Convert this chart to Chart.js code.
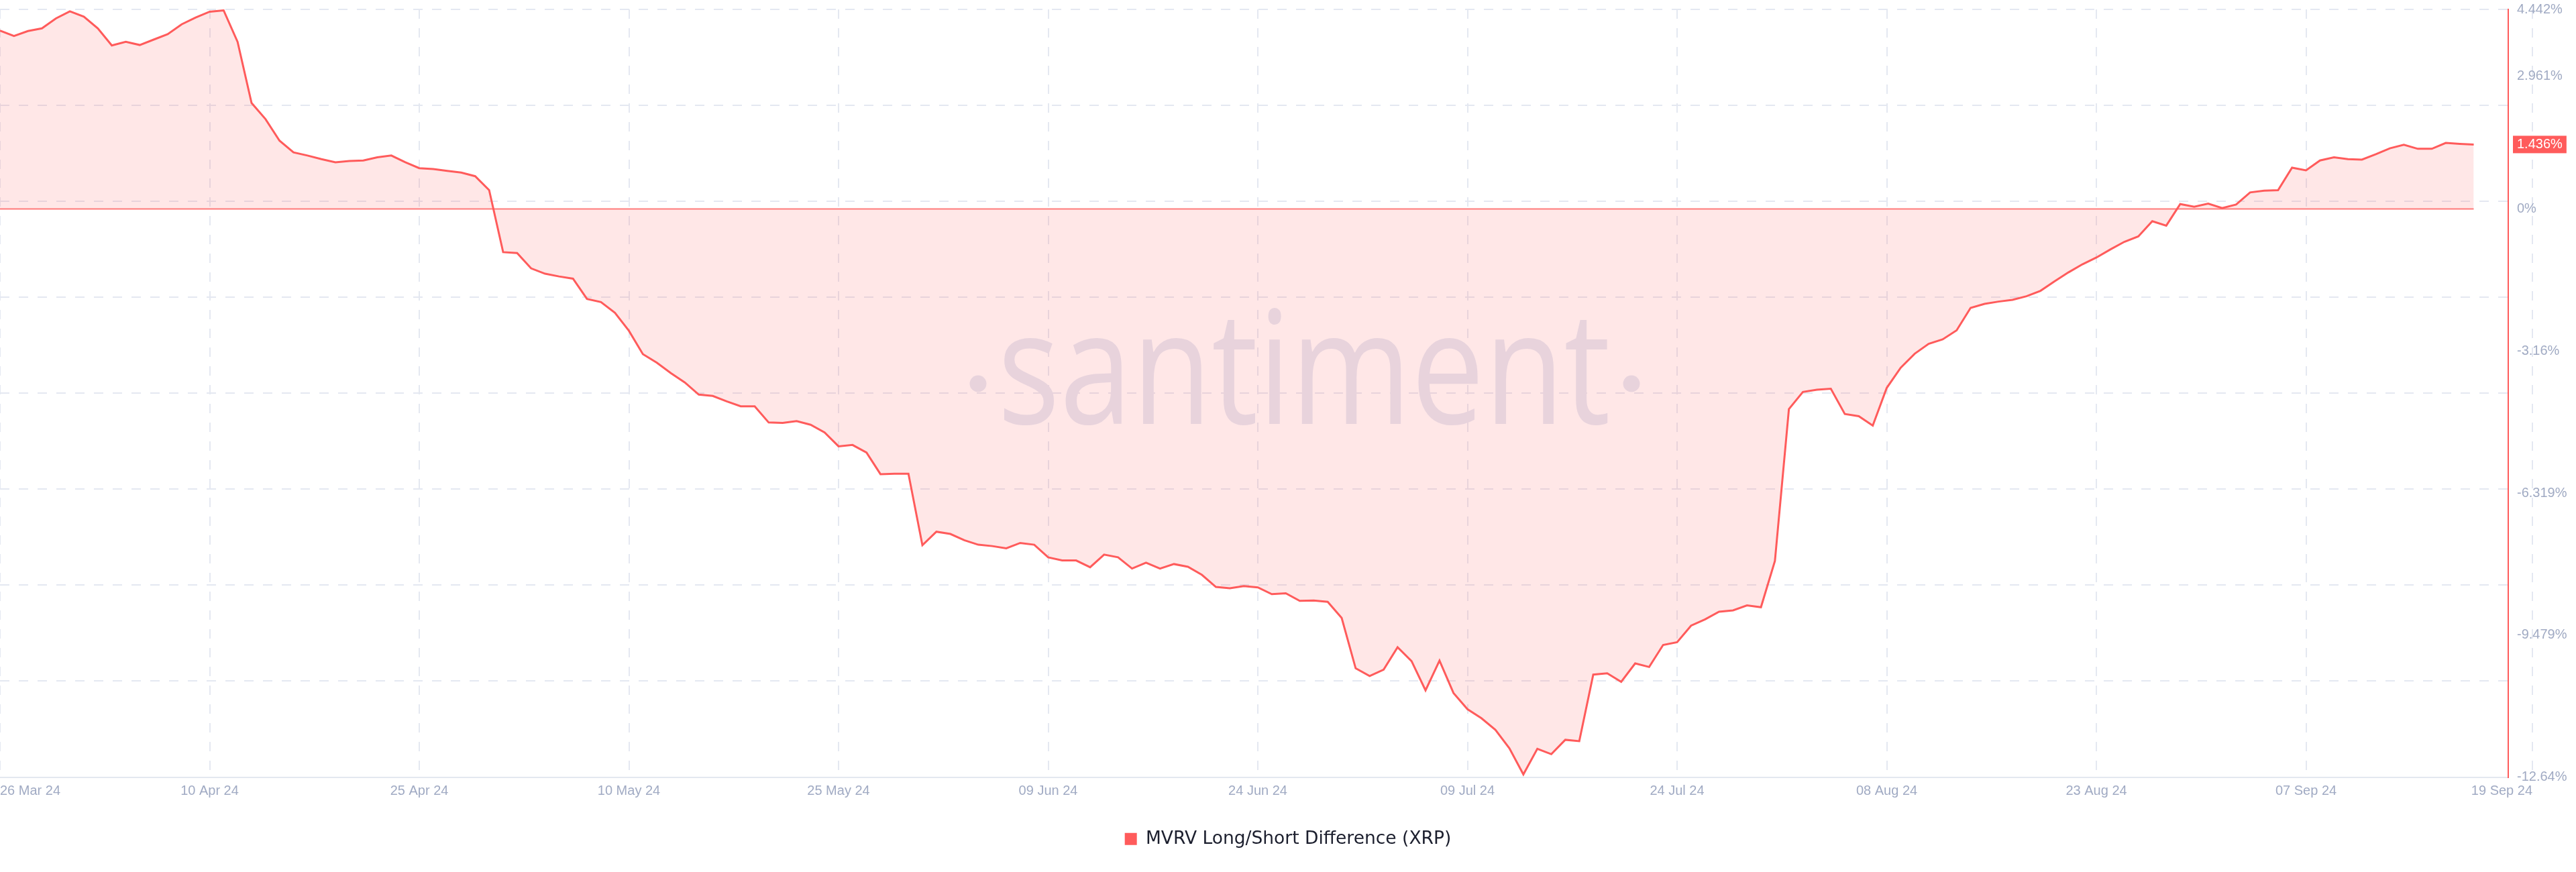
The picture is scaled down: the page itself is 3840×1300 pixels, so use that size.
<!DOCTYPE html>
<html>
<head>
<meta charset="utf-8">
<script src="https://cdn.jsdelivr.net/npm/chart.js@4.4.1/dist/chart.umd.min.js"></script>
<style>
    html, body { margin: 0; padding: 0; background: #ffffff; }
</style>
</head>
<body>
<canvas id="makeChart" width="3840" height="1300"></canvas>
<script>
// daily values, 26 Mar 24 -> 19 Sep 24 (%)
const marValues = [3.97, 3.85, 3.96, 4.02, 4.24, 4.40];
const aprValues = [4.28, 4.02, 3.64, 3.72, 3.65, 3.77, 3.89, 4.11, 4.26, 4.39,
    4.42, 3.72, 2.36, 2.00, 1.52, 1.26, 1.19, 1.11, 1.04, 1.07,
    1.08, 1.15, 1.19, 1.04, 0.91, 0.89, 0.85, 0.81, 0.73, 0.42];
const mayValues = [-0.96, -0.98, -1.32, -1.44, -1.50, -1.55, -2.00, -2.07, -2.31, -2.71,
    -3.23, -3.42, -3.65, -3.86, -4.13, -4.16, -4.28, -4.39, -4.39, -4.75,
    -4.76, -4.72, -4.80, -4.97, -5.28, -5.25, -5.42, -5.90, -5.89, -5.89, -7.48];
const junValues = [-7.18, -7.23, -7.37, -7.47, -7.50, -7.55, -7.43, -7.47, -7.75, -7.82,
    -7.82, -7.97, -7.69, -7.75, -8.00, -7.87, -8.00, -7.90, -7.96, -8.14,
    -8.41, -8.44, -8.39, -8.42, -8.57, -8.55, -8.72, -8.71, -8.74, -9.10];
const julValues = [-10.22, -10.39, -10.25, -9.75, -10.06, -10.71, -10.05, -10.77, -11.13, -11.33,
    -11.59, -12.00, -12.58, -12.01, -12.13, -11.81, -11.84, -10.36, -10.33, -10.52,
    -10.11, -10.19, -9.70, -9.64, -9.27, -9.13, -8.96, -8.93, -8.82, -8.86, -7.83];
const augValues = [-4.45, -4.07, -4.02, -4.00, -4.56, -4.61, -4.82, -3.98, -3.53, -3.22,
    -3.00, -2.90, -2.70, -2.20, -2.11, -2.06, -2.02, -1.94, -1.82, -1.61,
    -1.41, -1.23, -1.08, -0.90, -0.73, -0.61, -0.27, -0.37, 0.11, 0.05, 0.12];
const sepValues = [0.02, 0.10, 0.37, 0.41, 0.42, 0.92, 0.86, 1.08, 1.15, 1.11,
    1.10, 1.22, 1.35, 1.43, 1.34, 1.34, 1.47, 1.45, 1.436];

const values = [].concat(marValues, aprValues, mayValues, junValues, julValues, augValues, sepValues);

// x axis: day offsets from 26 Mar 24 and their labels
const tickDays = [0, 15, 30, 45, 60, 75, 90, 105, 120, 135, 150, 165, 181.2];
const tickLabels = ['26 Mar 24', '10 Apr 24', '25 Apr 24', '10 May 24', '25 May 24', '09 Jun 24',
    '24 Jun 24', '09 Jul 24', '24 Jul 24', '08 Aug 24', '23 Aug 24', '07 Sep 24', '19 Sep 24'];

// y axis labels
const yLabelValues = [4.442, 2.961, 0, -3.16, -6.319, -9.479, -12.64];
const lastValue = 1.436;
const yMin = -12.64,
    yMax = 4.442;

const seriesName = 'MVRV Long/Short Difference (XRP)';
const lineColor = '#ff5b5b';
const gridColor = '#e4e8f1';
const tickColor = '#a0aac3';

const canvasChart = document.getElementById('makeChart');

// horizontal grid is split evenly, independent of the labels
const gridValues = [];
for (let k = 0; k <= 8; k++) {
    gridValues.push(yMax - k * (yMax - yMin) / 8);
}

const watermark = {
    id: 'watermark',
    beforeDatasetsDraw: (chart) => {
        const ctx = chart.ctx;
        ctx.save();
        ctx.fillStyle = 'rgb(228, 232, 243)';
        ctx.translate(1944, 632);
        ctx.scale(0.825, 1);
        ctx.font = '235px "Open Sans"';
        ctx.textAlign = 'center';
        ctx.textBaseline = 'alphabetic';
        ctx.fillText('santiment', 0, 0);
        ctx.restore();
        ctx.save();
        ctx.fillStyle = 'rgb(228, 232, 243)';
        [1458, 2432].forEach(x => {
            ctx.beginPath();
            ctx.arc(x, 572, 12.5, 0, Math.PI * 2);
            ctx.fill();
        });
        ctx.restore();
    }
};

const data = {
    datasets: [{
        label: seriesName,
        data: values.map((v, i) => ({ x: i, y: v })),
        borderColor: lineColor,
        borderWidth: 3,
        backgroundColor: 'rgba(255, 91, 91, 0.15)',
        fill: 'origin',
        pointRadius: 0,
        tension: 0,
        order: 1,
    }, {
        // zero baseline, drawn over the fill
        label: 'zero',
        data: values.map((v, i) => ({ x: i, y: 0 })),
        borderColor: 'rgba(255, 91, 91, 0.8)',
        borderWidth: 2,
        pointRadius: 0,
        fill: false,
        order: 0,
    }]
};

const config = {
    type: 'line',
    data: data,
    plugins: [watermark],
    options: {
        responsive: false,
        animation: false,
        devicePixelRatio: 1,
        layout: {
            padding: { top: 14, left: 0, right: 0, bottom: 26 }
        },
        plugins: {
            tooltip: { enabled: false },
            legend: {
                position: 'bottom',
                labels: {
                    boxWidth: 18,
                    boxHeight: 18,
                    padding: 37,
                    color: '#1c1f2e',
                    font: { family: '"DejaVu Sans", sans-serif', size: 26.5 },
                    generateLabels: (chart) => Chart.defaults.plugins.legend.labels.generateLabels(chart)
                        .filter(item => item.datasetIndex === 0)
                        .map(item => Object.assign(item, { fillStyle: lineColor, strokeStyle: lineColor, lineWidth: 0 }))
                }
            }
        },
        scales: {
            x: {
                type: 'linear',
                min: 0,
                max: 179.47,
                afterBuildTicks: (scale) => {
                    scale.ticks = tickDays.map(v => ({ value: v }));
                },
                afterFit: (scale) => {
                    scale.paddingLeft = 0;
                },
                ticks: {
                    autoSkip: false,
                    maxRotation: 0,
                    align: 'inner',
                    padding: 9,
                    color: tickColor,
                    font: { family: '"Liberation Sans", Arial, sans-serif', size: 20 },
                    callback: (value, index) => tickLabels[index]
                },
                grid: { color: gridColor, lineWidth: 2, drawTicks: false },
                border: { display: true, color: '#e3e8f0', width: 2, dash: [14, 14] }
            },
            y: {
                type: 'linear',
                position: 'right',
                min: yMin,
                max: yMax,
                afterBuildTicks: (scale) => {
                    scale.ticks = gridValues.map(v => ({ value: v, grid: true }))
                        .concat(yLabelValues.map(v => ({ value: v })))
                        .concat([{ value: lastValue, badge: true }]);
                },
                afterFit: (scale) => {
                    scale.width = 101;
                    scale.paddingTop = 0;
                    scale.paddingBottom = 0;
                },
                ticks: {
                    autoSkip: false,
                    padding: 13,
                    font: { family: '"Liberation Sans", Arial, sans-serif', size: 20 },
                    color: (ctx) => ctx.tick && ctx.tick.badge ? '#ffffff' : tickColor,
                    showLabelBackdrop: (ctx) => !!(ctx.tick && ctx.tick.badge),
                    backdropColor: lineColor,
                    backdropPadding: { top: 1, bottom: 1, left: 6, right: 6 },
                    callback: (value, index, ticks) => ticks[index].grid ? '' : value + '%'
                },
                grid: {
                    color: (ctx) => ctx.tick && ctx.tick.grid ? gridColor : 'transparent',
                    lineWidth: 2,
                    drawTicks: false
                },
                border: { display: true, color: lineColor, width: 2, dash: [14, 14] }
            }
        }
    }
};

const myChart = new Chart(canvasChart, config);
</script>
</body>
</html>
